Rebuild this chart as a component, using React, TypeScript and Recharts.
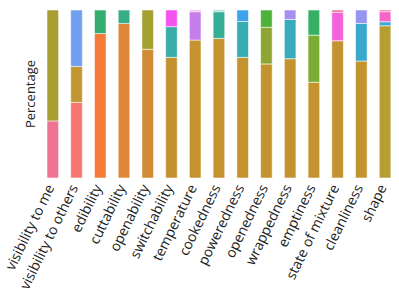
import React from 'react';
import { BarChart, Bar, XAxis, YAxis, Cell } from 'recharts';

const categories = [
  'visibility to me', 'visibility to others', 'edibility', 'cuttability', 'openability',
  'switchability', 'temperature', 'cookedness', 'poweredness', 'openedness',
  'wrappedness', 'emptiness', 'state of mixture', 'cleanliness', 'shape',
];
const seg1 = [34, 45, 86, 92, 76.6, 71.8, 82.1, 83.1, 71.8, 67.9, 71, 57, 81.7, 69.6, 90.6];
const seg2 = [66, 21.4, 14, 8, 23.4, 18.3, 16.9, 15.9, 21.4, 21.8, 23.4, 28, 16.9, 22.4, 2.4];
const seg3 = [0, 33.6, 0, 0, 0, 9.9, 1.0, 1.0, 6.8, 10.3, 5.6, 15, 1.4, 8, 6.0];
const seg4 = [0, 0, 0, 0, 0, 0, 0, 0, 0, 0, 0, 0, 0, 0, 1.0];

const col1 = ['#f17394', '#f6766f', '#f57b3a', '#e0873a', '#d08b37', '#c4912f', '#c4922f', '#c4922f', '#c4922f', '#c3932f', '#c3932f', '#c2932f', '#c2932f', '#c2932f', '#b69e33'];
const col2 = ['#a89e32', '#c29731', '#36ad70', '#36ae8a', '#a4a032', '#39aca8', '#c47ee9', '#36ad95', '#38acb2', '#8fa532', '#3aabbd', '#7aad33', '#f560dc', '#3ca8cc', '#3ca8d8'];
const col3 = ['#000', '#6e9ff1', '#000', '#000', '#000', '#f553ef', '#f0a8ee', '#8ed4c4', '#3ea2ea', '#4eb23a', '#a68ef2', '#35b064', '#f57196', '#9596f2', '#f566c8'];
const col4 = ['#000', '#000', '#000', '#000', '#000', '#000', '#000', '#000', '#000', '#000', '#000', '#000', '#000', '#000', '#f57196'];

const data = categories.map((c, i) => ({ name: c, s1: seg1[i], s2: seg2[i], s3: seg3[i], s4: seg4[i] }));

const FONT = 'Open Sans';

const Tick = (props: any) => {
  const { x, y, payload } = props;
  const tx = x - 3;
  const ty = y + 7;
  return (
    <text
      x={tx}
      y={ty}
      transform={`rotate(-64, ${tx}, ${ty})`}
      textAnchor="end"
      dominantBaseline="central"
      fontFamily={FONT}
      fontSize={14}
      fill="#222"
    >
      {payload.value}
    </text>
  );
};

const stroke = 'rgba(255,255,255,0.55)';

export default function App() {
  return (
    <div style={{ position: 'absolute', left: 0, top: 0 }}>
      <BarChart
        width={399}
        height={291}
        data={data}
        margin={{ top: 10, right: 2, left: 8, bottom: 0 }}
        barSize={11.6}
      >
        <XAxis
          dataKey="name"
          interval={0}
          tickLine={false}
          axisLine={false}
          tickSize={0}
          tickMargin={0}
          height={113}
          tick={<Tick />}
        />
        <YAxis
          domain={[0, 100]}
          tick={false}
          tickLine={false}
          axisLine={false}
          width={33}
          label={{ value: 'Percentage', angle: -90, position: 'center', dx: 6, fontFamily: FONT, fontSize: 13, fill: '#222' }}
        />
        <Bar dataKey="s1" stackId="a" isAnimationActive={false} stroke={stroke} strokeWidth={1}>
          {col1.map((c, i) => <Cell key={i} fill={c} />)}
        </Bar>
        <Bar dataKey="s2" stackId="a" isAnimationActive={false} stroke={stroke} strokeWidth={1}>
          {col2.map((c, i) => <Cell key={i} fill={c} />)}
        </Bar>
        <Bar dataKey="s3" stackId="a" isAnimationActive={false} stroke={stroke} strokeWidth={1}>
          {col3.map((c, i) => <Cell key={i} fill={c} />)}
        </Bar>
        <Bar dataKey="s4" stackId="a" isAnimationActive={false} stroke={stroke} strokeWidth={1}>
          {col4.map((c, i) => <Cell key={i} fill={c} />)}
        </Bar>
      </BarChart>
    </div>
  );
}
